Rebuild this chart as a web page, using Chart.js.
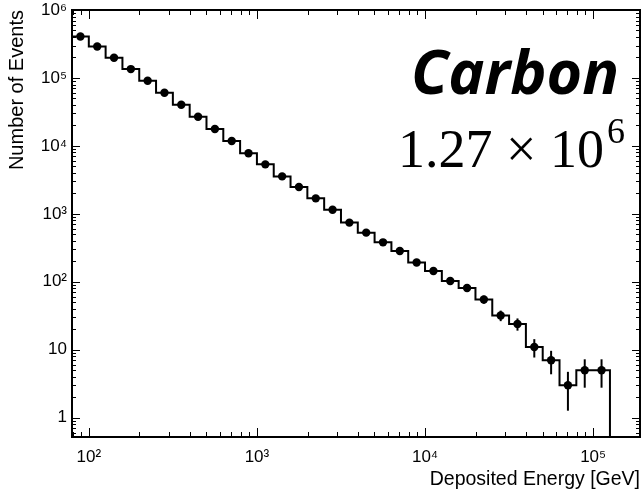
<!DOCTYPE html>
<html>
<head>
<meta charset="utf-8">
<title>Carbon - deposited energy</title>
<script src="https://cdn.jsdelivr.net/npm/chart.js@4.4.1/dist/chart.umd.min.js"></script>
<style>
  html, body { margin: 0; padding: 0; background: #fff; }
  canvas { display: block; }
</style>
</head>
<body>
<canvas id="chart" width="641" height="493"></canvas>
<script>
// ===== DATA =====
// bin edges in log10(E / GeV), 0.1 decade per bin
const binEdgesLog = [1.9, 2.0, 2.1, 2.2, 2.3, 2.4, 2.5, 2.6, 2.7, 2.8, 2.9,
  3.0, 3.1, 3.2, 3.3, 3.4, 3.5, 3.6, 3.7, 3.8, 3.9,
  4.0, 4.1, 4.2, 4.3, 4.4, 4.5, 4.6, 4.7, 4.8, 4.9, 5.0, 5.1];

// events in each bin
const eventCounts = [407000, 290000, 198000, 135000, 91000, 60500, 40400, 26900,
  17700, 11800, 7800, 5350, 3560, 2480, 1690, 1150,
  743, 529, 381, 284, 192, 144, 103, 81,
  55, 32, 24, 11, 7, 3, 5, 5];

// labels for the decades
const xTickLabels = ['10²', '10³', '10⁴', '10⁵'];          // 1e2 .. 1e5
const yTickLabels = ['1', '10', '10²', '10³', '10⁴', '10⁵', '10⁶']; // 1 .. 1e6

const sampleName = 'Carbon';
const totalMantissa = '1.27 × 10';
const totalExponent = '6';

const X_MIN = Math.pow(10, 1.9);
const X_MAX = 1.9e5;
const Y_MIN = 0.52;
const Y_MAX = 1e6;

// ===== HELPERS =====
const binCenters = eventCounts.map((_, i) => Math.pow(10, (binEdgesLog[i] + binEdgesLog[i + 1]) / 2));

// histogram outline: each bin drawn from its low edge, closed at the last edge
const stepData = eventCounts.map((n, i) => ({ x: Math.pow(10, binEdgesLog[i]), y: n }));
const lastEdge = Math.pow(10, binEdgesLog[binEdgesLog.length - 1]);
stepData.push({ x: lastEdge, y: eventCounts[eventCounts.length - 1] });
stepData.push({ x: lastEdge, y: Y_MIN });

const pointData = eventCounts.map((n, i) => ({ x: binCenters[i], y: n }));

// 1..9 x 10^k ticks inside [min, max]
function logTicks(min, max) {
  const out = [];
  for (let e = Math.floor(Math.log10(min)); e <= Math.ceil(Math.log10(max)); e++) {
    for (let m = 1; m <= 9; m++) {
      const v = m * Math.pow(10, e);
      if (v >= min * 0.9999 && v <= max * 1.0001) out.push({ value: v, major: m === 1 });
    }
  }
  return out;
}

function decadeLabel(value, labels, firstExp) {
  const e = Math.round(Math.log10(value));
  if (Math.abs(value - Math.pow(10, e)) > 1e-6 * value) return '';
  return labels[e - firstExp] || '';
}

// ===== PLUGINS =====
// sqrt(N) error bars
const errorBars = {
  id: 'errorBars',
  afterDatasetsDraw(chart) {
    const { ctx, chartArea: a, scales: { x, y } } = chart;
    ctx.save();
    ctx.beginPath();
    ctx.rect(a.left, a.top, a.right - a.left, a.bottom - a.top);
    ctx.clip();
    ctx.strokeStyle = '#000';
    ctx.lineWidth = 2;
    eventCounts.forEach((n, i) => {
      const err = Math.sqrt(n);
      const px = x.getPixelForValue(binCenters[i]);
      ctx.beginPath();
      ctx.moveTo(px, y.getPixelForValue(Math.max(n - err, Y_MIN)));
      ctx.lineTo(px, y.getPixelForValue(n + err));
      ctx.stroke();
    });
    ctx.restore();
  }
};

// boxed frame with inward ticks on all four sides
const frameTicks = {
  id: 'frameTicks',
  afterDraw(chart) {
    const { ctx, chartArea: a, scales: { x, y } } = chart;
    ctx.save();
    ctx.strokeStyle = '#000';
    ctx.lineWidth = 1;
    ctx.beginPath();
    x.ticks.forEach(t => {
      const px = Math.round(x.getPixelForValue(t.value)) + 0.5;
      const len = t.major ? 9 : 5;
      ctx.moveTo(px, a.bottom); ctx.lineTo(px, a.bottom - len);
      ctx.moveTo(px, a.top); ctx.lineTo(px, a.top + len);
    });
    y.ticks.forEach(t => {
      const py = Math.round(y.getPixelForValue(t.value)) + 0.5;
      const len = t.major ? 8 : 4;
      ctx.moveTo(a.left, py); ctx.lineTo(a.left + len, py);
      ctx.moveTo(a.right, py); ctx.lineTo(a.right - len, py);
    });
    ctx.stroke();
    ctx.lineWidth = 2;
    ctx.strokeRect(a.left, a.top, a.right - a.left, a.bottom - a.top);
    ctx.restore();
  }
};

// sample name and total number of events
const annotations = {
  id: 'annotations',
  afterDraw(chart) {
    const { ctx } = chart;
    ctx.save();
    ctx.fillStyle = '#000';
    ctx.textBaseline = 'alphabetic';
    ctx.textAlign = 'left';
    ctx.font = 'italic bold 61px "Open Sans"';
    ctx.fillText(sampleName, 411, 94);
    ctx.font = '54px "Liberation Serif"';
    ctx.fillText(totalMantissa, 398, 167);
    const w = ctx.measureText(totalMantissa).width;
    ctx.font = '36px "Liberation Serif"';
    ctx.fillText(totalExponent, 398 + w + 3, 143);
    ctx.restore();
  }
};

// ===== CHART =====
const tickFont = { family: '"Liberation Sans", Arial, sans-serif', size: 17 };

new Chart(document.getElementById('chart'), {
  type: 'scatter',
  data: {
    datasets: [
      {
        type: 'line',
        data: stepData,
        stepped: 'before',
        borderColor: '#000',
        borderWidth: 2,
        pointRadius: 0,
        fill: false,
        showLine: true
      },
      {
        data: pointData,
        pointRadius: 4.2,
        pointBackgroundColor: '#000',
        pointBorderWidth: 0
      }
    ]
  },
  options: {
    responsive: false,
    animation: false,
    devicePixelRatio: 1,
    layout: { autoPadding: false, padding: { top: 10, right: 1, left: 0, bottom: 0 } },
    plugins: { legend: { display: false }, tooltip: { enabled: false } },
    scales: {
      x: {
        type: 'logarithmic',
        min: X_MIN,
        max: X_MAX,
        afterBuildTicks: s => { s.ticks = logTicks(X_MIN, X_MAX); },
        afterFit: s => { s.height = 56; s.paddingLeft = 0; s.paddingRight = 0; },
        grid: { display: false, drawTicks: false },
        border: { display: false },
        ticks: {
          autoSkip: false,
          maxRotation: 0,
          minRotation: 0,
          padding: 10,
          color: '#000',
          font: tickFont,
          callback: v => decadeLabel(v, xTickLabels, 2)
        },
        title: {
          display: true,
          text: 'Deposited Energy [GeV]',
          align: 'end',
          color: '#000',
          font: { family: '"Liberation Sans", Arial, sans-serif', size: 19.5 },
          padding: { top: 0, bottom: 2 }
        }
      },
      y: {
        type: 'logarithmic',
        min: Y_MIN,
        max: Y_MAX,
        afterBuildTicks: s => { s.ticks = logTicks(Y_MIN, Y_MAX); },
        afterFit: s => { s.width = 72; s.paddingTop = 0; s.paddingBottom = 0; },
        grid: { display: false, drawTicks: false },
        border: { display: false },
        ticks: {
          autoSkip: false,
          padding: 5,
          color: '#000',
          font: tickFont,
          callback: v => decadeLabel(v, yTickLabels, 0)
        },
        title: {
          display: true,
          text: 'Number of Events',
          align: 'end',
          color: '#000',
          font: { family: '"Liberation Sans", Arial, sans-serif', size: 20 },
          padding: { top: 5, bottom: 0 }
        }
      }
    }
  },
  plugins: [errorBars, frameTicks, annotations]
});
</script>
</body>
</html>
